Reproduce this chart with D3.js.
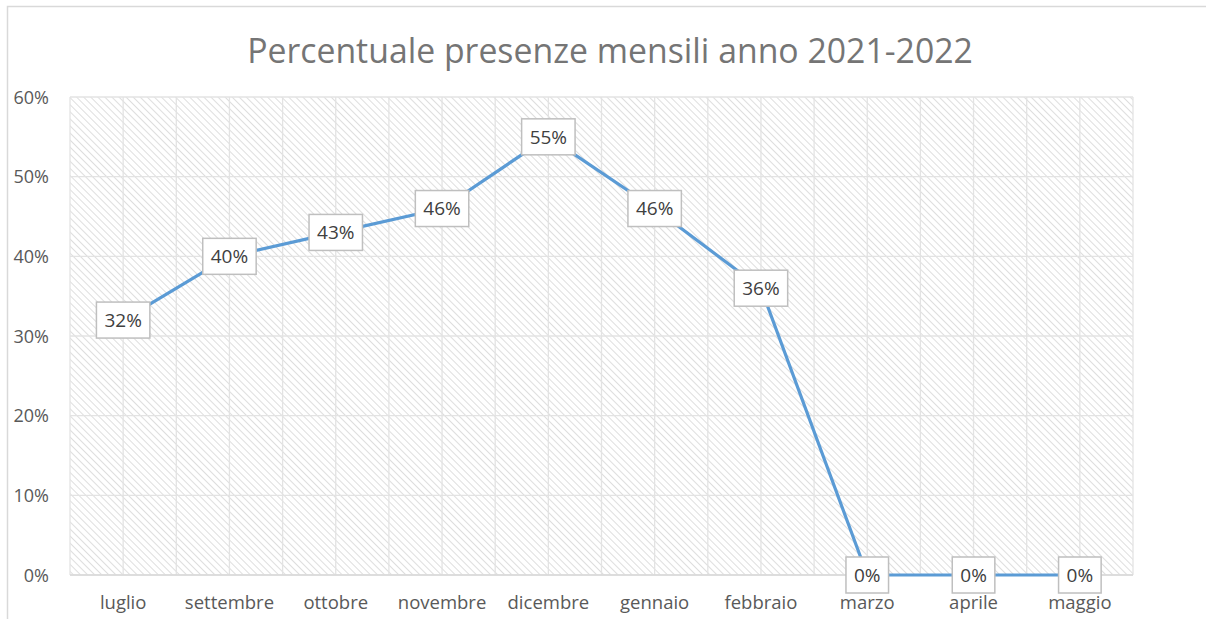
<!DOCTYPE html>
<html>
<head>
<meta charset="utf-8">
<script src="https://d3js.org/d3.v7.min.js"></script>
<style>
  body { margin: 0; background: #fff; }
  svg text { font-family: "Open Sans", "Noto Sans", sans-serif; }
</style>
</head>
<body>
<div id="chart"></div>
<script>
// data
var months = ["luglio", "settembre", "ottobre", "novembre", "dicembre", "gennaio", "febbraio", "marzo", "aprile", "maggio"];
var presenze = [32, 40, 43, 46, 55, 46, 36, 0, 0, 0];
var yTicks = [0, 10, 20, 30, 40, 50, 60];
var title = "Percentuale presenze mensili anno 2021-2022";

var W = 1206, H = 619;
var plot = {left: 70, right: 1133, top: 97, bottom: 575};

var svg = d3.select("#chart").append("svg")
  .attr("width", W).attr("height", H);

// hatch pattern for plot area
var defs = svg.append("defs");
var pat = defs.append("pattern")
  .attr("id", "hatch")
  .attr("patternUnits", "userSpaceOnUse")
  .attr("width", 5).attr("height", 5)
  .attr("patternTransform", "rotate(-45)");
pat.append("rect").attr("width", 5).attr("height", 5).attr("fill", "#fff");
pat.append("line")
  .attr("x1", 0).attr("y1", 0).attr("x2", 0).attr("y2", 5)
  .attr("stroke", "#d6d6d6").attr("stroke-width", 1.6);

// outer chart border
svg.append("rect")
  .attr("x", 7.5).attr("y", 6.5)
  .attr("width", W + 20).attr("height", H + 20)
  .attr("fill", "none").attr("stroke", "#d9d9d9").attr("stroke-width", 1.5);

var x = d3.scaleBand().domain(months).range([plot.left, plot.right]).padding(0);
var y = d3.scaleLinear().domain([0, 60]).range([plot.bottom, plot.top]);

svg.append("rect")
  .attr("x", plot.left).attr("y", plot.top)
  .attr("width", plot.right - plot.left).attr("height", plot.bottom - plot.top)
  .attr("fill", "url(#hatch)");

// gridlines
var grid = svg.append("g").attr("stroke", "#e3e3e3").attr("stroke-width", 1.3);
grid.selectAll("line.h").data(yTicks).join("line")
  .attr("class", "h")
  .attr("x1", plot.left).attr("x2", plot.right)
  .attr("y1", function (d) { return y(d); }).attr("y2", function (d) { return y(d); });

var vpos = [];
months.forEach(function (m) {
  vpos.push(x(m));
  vpos.push(x(m) + x.bandwidth() / 2);
});
vpos.push(plot.right);
grid.selectAll("line.v").data(vpos).join("line")
  .attr("class", "v")
  .attr("y1", plot.top).attr("y2", plot.bottom)
  .attr("x1", function (d) { return d; }).attr("x2", function (d) { return d; });

// bottom axis line
svg.append("line")
  .attr("x1", plot.left).attr("x2", plot.right)
  .attr("y1", plot.bottom).attr("y2", plot.bottom)
  .attr("stroke", "#d9d9d9").attr("stroke-width", 1.3);

// axes (labels only)
var yAxis = svg.append("g")
  .attr("transform", "translate(" + (plot.left - 21) + ",0)")
  .call(d3.axisLeft(y).tickValues(yTicks).tickSize(0).tickFormat(function (d) { return d + "%"; }));
yAxis.select(".domain").remove();
yAxis.selectAll("text").attr("fill", "#595959").style("font-size", "18px").attr("x", 0).attr("dy", "0.35em");

var xAxis = svg.append("g")
  .attr("transform", "translate(0," + plot.bottom + ")")
  .call(d3.axisBottom(x).tickSize(0));
xAxis.select(".domain").remove();
xAxis.selectAll("text").attr("fill", "#595959").style("font-size", "18.5px").attr("y", 21).attr("dy", "0.71em");

// title
var t = svg.append("text")
  .attr("x", 610).attr("y", 63)
  .attr("text-anchor", "middle")
  .attr("fill", "#757575")
  .style("font-size", "100px")
  .text(title);
var tl = t.node().getComputedTextLength();
t.style("font-size", (100 * 726 / tl) + "px");

// line
var line = d3.line()
  .x(function (d, i) { return x(months[i]) + x.bandwidth() / 2; })
  .y(function (d) { return y(d); });
svg.append("path")
  .datum(presenze)
  .attr("d", line)
  .attr("fill", "none")
  .attr("stroke", "#5b9bd5")
  .attr("stroke-width", 3.2)
  .attr("stroke-linejoin", "round");

// data labels
var lab = svg.selectAll("g.lab").data(presenze).join("g")
  .attr("class", "lab")
  .attr("transform", function (d, i) {
    return "translate(" + (x(months[i]) + x.bandwidth() / 2) + "," + y(d) + ")";
  });
lab.append("text")
  .attr("text-anchor", "middle")
  .attr("dy", "0.36em")
  .attr("fill", "#404040")
  .style("font-size", "19px")
  .text(function (d) { return d + "%"; });
lab.each(function () {
  var g = d3.select(this);
  var bb = g.select("text").node().getBBox();
  var w = bb.width + 16, h = 36;
  g.insert("rect", "text")
    .attr("x", -w / 2).attr("y", -h / 2)
    .attr("width", w).attr("height", h)
    .attr("fill", "#fff")
    .attr("stroke", "#bfbfbf").attr("stroke-width", 1.5);
});
</script>
</body>
</html>
